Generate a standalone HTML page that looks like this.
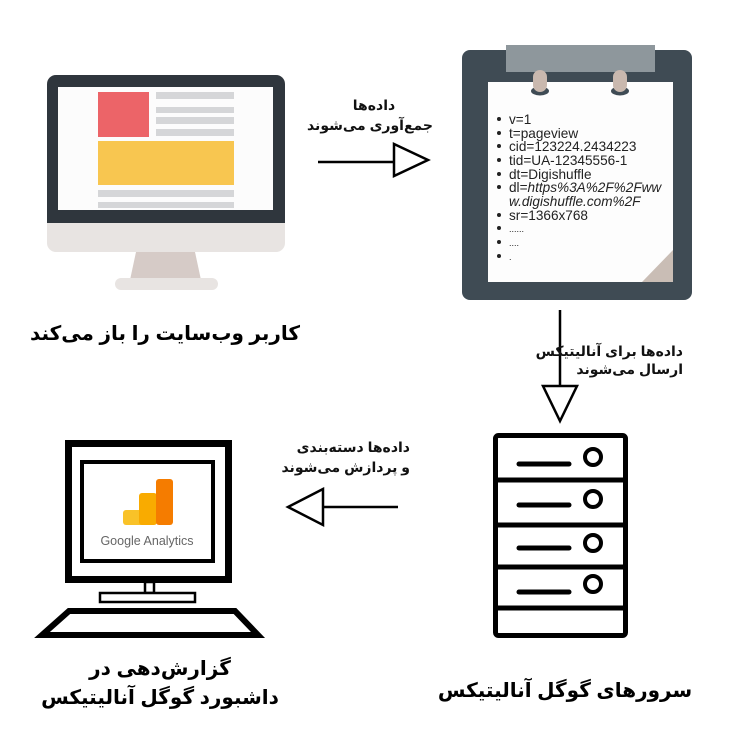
<!DOCTYPE html>
<html><head><meta charset="utf-8"><style>
body{margin:0;background:#fff;}
.t{font-family:"Liberation Sans","DejaVu Sans",sans-serif;}
</style></head><body>
<svg width="740" height="733" viewBox="0 0 740 733" xmlns="http://www.w3.org/2000/svg">
<rect width="740" height="733" fill="#fff"/>
<!-- Monitor 1 -->
<rect x="47" y="75" width="238" height="177" rx="9" fill="#e8e4e2"/>
<path d="M47 84 a9 9 0 0 1 9 -9 H276 a9 9 0 0 1 9 9 V223 H47 Z" fill="#2f363d"/>
<rect x="58" y="87" width="215" height="123" fill="#fcfcfc"/>
<rect x="98" y="92" width="51" height="45" fill="#ec6468"/>
<g fill="#d5d6d8">
<rect x="156" y="92" width="78" height="7"/>
<rect x="156" y="107" width="78" height="6"/>
<rect x="156" y="117" width="78" height="7"/>
<rect x="156" y="129" width="78" height="7"/>
<rect x="98" y="190" width="136" height="7"/>
<rect x="98" y="202" width="136" height="6"/>
</g>
<rect x="98" y="141" width="136" height="44" fill="#f8c650"/>
<path d="M136 252 H195 L201 280 H130 Z" fill="#d6cbc7"/>
<rect x="115" y="278" width="103" height="12" rx="6" fill="#e8e4e2"/>
<!-- Clipboard -->
<rect x="462" y="50" width="230" height="250" rx="8" fill="#3f4b54"/>
<rect x="506" y="45" width="149" height="27" fill="#8e979c"/>
<rect x="488" y="82" width="185" height="200" fill="#fdfdfd"/>
<path d="M642 282 L673 250 V282 Z" fill="#c9bdb5"/>
<ellipse cx="540" cy="91" rx="9" ry="4.5" fill="#3f4b54"/><ellipse cx="620" cy="91" rx="9" ry="4.5" fill="#3f4b54"/>
<rect x="533" y="70" width="14" height="22" rx="7" fill="#c9b8ae"/>
<rect x="613" y="70" width="14" height="22" rx="7" fill="#c9b8ae"/>
<g class="t" font-size="13.6" fill="#222">
<g fill="#222"><circle cx="499" cy="119" r="2"/><circle cx="499" cy="133" r="2"/><circle cx="499" cy="146" r="2"/><circle cx="499" cy="160" r="2"/><circle cx="499" cy="174" r="2"/><circle cx="499" cy="187" r="2"/><circle cx="499" cy="215" r="2"/><circle cx="499" cy="228" r="2"/><circle cx="499" cy="242" r="2"/><circle cx="499" cy="256" r="2"/></g>
<text x="509" y="124">v=1</text>
<text x="509" y="138">t=pageview</text>
<text x="509" y="151">cid=123224.2434223</text>
<text x="509" y="165">tid=UA-12345556-1</text>
<text x="509" y="179">dt=Digishuffle</text>
<text x="509" y="192">dl=<tspan font-style="italic">https%3A%2F%2Fww</tspan></text>
<text x="509" y="206" font-style="italic">w.digishuffle.com%2F</text>
<text x="509" y="220">sr=1366x768</text>
<text x="509" y="232" font-size="9">......</text>
<text x="509" y="246" font-size="9">....</text>
<text x="509" y="260" font-size="9">.</text>
</g>
<!-- Arrows -->
<g stroke="#000" stroke-width="2.5" fill="#fff">
<line x1="318" y1="162" x2="394" y2="162"/>
<path d="M394 144 L428 160 L394 176 Z"/>
<line x1="560" y1="310" x2="560" y2="386"/>
<path d="M543 386 L577 386 L560 421 Z"/>
<line x1="323" y1="507" x2="398" y2="507"/>
<path d="M323 489 L288 507 L323 525 Z"/>
</g>
<g class="t" font-weight="bold" font-size="14" fill="#111" direction="rtl">
<text x="374" y="110" text-anchor="middle" direction="ltr">داده‌ها</text>
<text x="370" y="130" text-anchor="middle" direction="ltr">جمع‌آوری می‌شوند</text>
<text x="683" y="356">داده‌ها برای آنالیتیکس</text>
<text x="683" y="374">ارسال می‌شوند</text>
<text x="410" y="452">داده‌ها دسته‌بندی</text>
<text x="410" y="472">و پردازش می‌شوند</text>
</g>
<g class="t" font-weight="bold" font-size="20" fill="#000" text-anchor="middle">
<text x="165" y="340">کاربر وب‌سایت را باز می‌کند</text>
<text x="565" y="697">سرورهای گوگل آنالیتیکس</text>
<text x="160" y="675">گزارش‌دهی در</text>
<text x="160" y="704">داشبورد گوگل آنالیتیکس</text>
</g>
<!-- Server -->
<g stroke="#000" fill="none">
<rect x="495.5" y="435.5" width="130" height="200" rx="3" stroke-width="5"/>
<g stroke-width="5"><line x1="495" y1="480" x2="626" y2="480"/><line x1="495" y1="525" x2="626" y2="525"/><line x1="495" y1="567" x2="626" y2="567"/><line x1="495" y1="608" x2="626" y2="608"/></g>
<g stroke-width="5" stroke-linecap="round"><line x1="519" y1="464" x2="569" y2="464"/><line x1="519" y1="505" x2="569" y2="505"/><line x1="519" y1="548" x2="569" y2="548"/><line x1="519" y1="592" x2="569" y2="592"/></g>
<g stroke-width="4"><circle cx="593" cy="457" r="8"/><circle cx="593" cy="499" r="8"/><circle cx="593" cy="543" r="8"/><circle cx="593" cy="584" r="8"/></g>
</g>
<!-- GA computer -->
<g stroke="#000" fill="#fff">
<rect x="68.5" y="443.5" width="160" height="136" stroke-width="7"/>
<rect x="82" y="462" width="131" height="99" stroke-width="4"/>
<rect x="145" y="582" width="9" height="11" stroke-width="2.5"/>
<rect x="100" y="593" width="95" height="9" stroke-width="2.5"/>
<path d="M69 611 H235 L258 635 H42 Z" stroke-width="6" stroke-linejoin="miter"/>
</g>
<rect x="123" y="510" width="22" height="15" rx="3" fill="#f9c228"/>
<rect x="139" y="493" width="18" height="32" rx="3" fill="#f9ab00"/>
<rect x="156" y="479" width="17" height="46" rx="3" fill="#f57c00"/>
<text x="147" y="545" class="t" font-size="12.5" fill="#666" text-anchor="middle">Google Analytics</text>
</svg>
</body></html>
